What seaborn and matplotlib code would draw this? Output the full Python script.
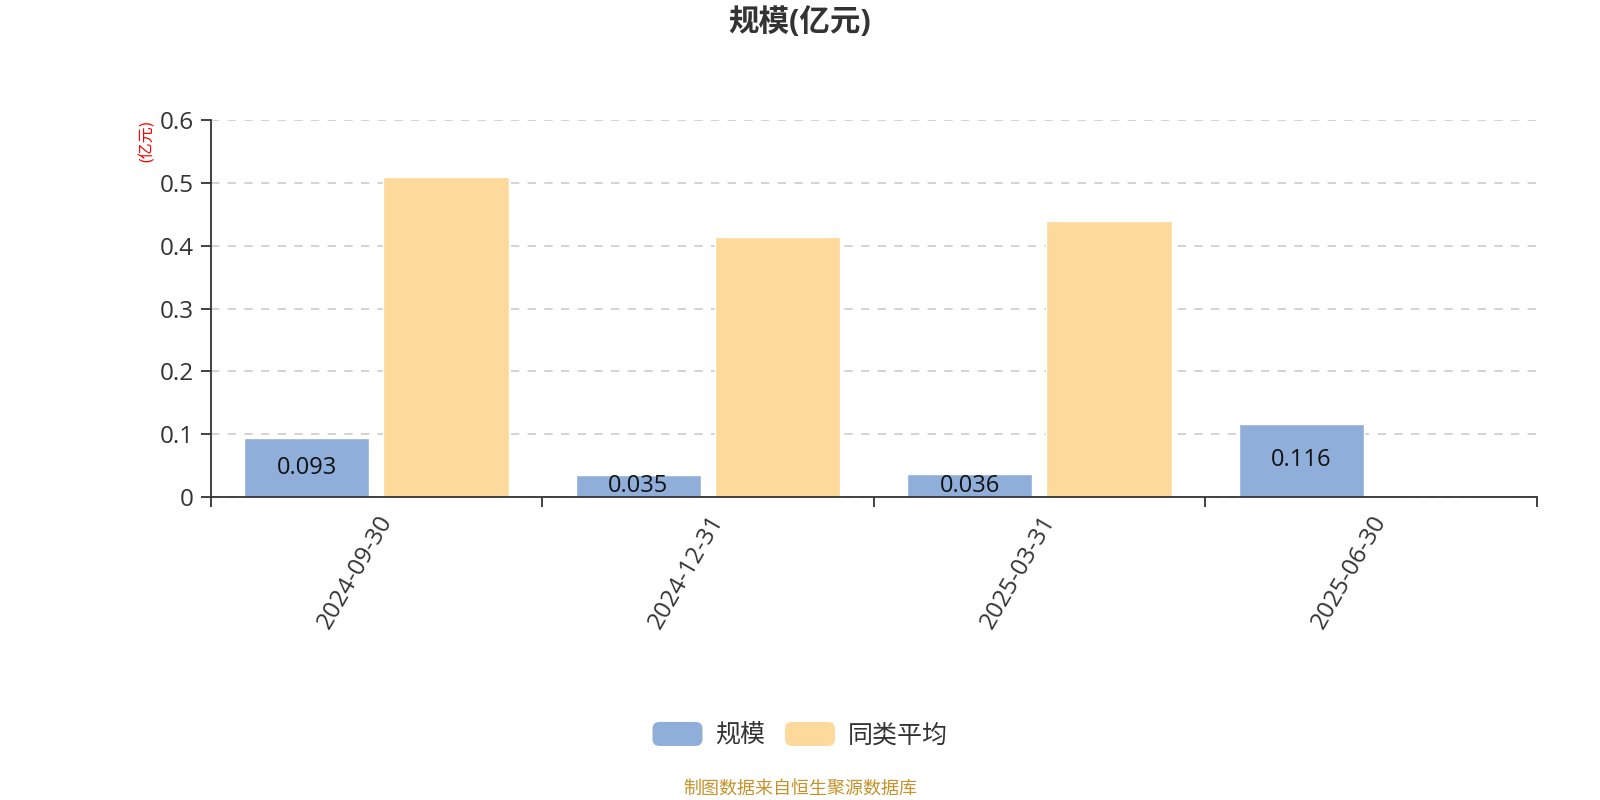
import matplotlib
matplotlib.use("Agg")
import matplotlib.pyplot as plt
import numpy as np
import pandas as pd
import seaborn as sns
from matplotlib.legend_handler import HandlerPatch
from matplotlib.patches import FancyBboxPatch, Patch

# data
dates = ["2024-09-30", "2024-12-31", "2025-03-31", "2025-06-30"]
scale = [0.093, 0.035, 0.036, 0.116]
peer_avg = [0.510, 0.414, 0.439, np.nan]
series_names = ["规模", "同类平均"]
yticks = [0, 0.1, 0.2, 0.3, 0.4, 0.5, 0.6]
ytick_labels = ["0", "0.1", "0.2", "0.3", "0.4", "0.5", "0.6"]

colors = ["#8FAEDA", "#FDD99B"]

sns.set_theme(style="white")
plt.rcParams["font.family"] = ["Open Sans", "Noto Sans CJK SC", "DejaVu Sans"]

df = pd.DataFrame({
    "date": dates * 2,
    "value": scale + peer_avg,
    "series": [series_names[0]] * len(dates) + [series_names[1]] * len(dates),
})


class RoundBoxHandler(HandlerPatch):
    """Legend handle drawn as a rounded box."""

    def create_artists(self, legend, orig_handle, xdescent, ydescent,
                       width, height, fontsize, trans):
        p = FancyBboxPatch((-xdescent, -ydescent), width, height,
                           boxstyle="round,pad=0,rounding_size=5",
                           facecolor=orig_handle.get_facecolor(),
                           edgecolor="none", transform=trans)
        return [p]


fig = plt.figure(figsize=(16, 8), dpi=100)
ax = fig.add_axes([0.1317, 0.379, 0.8287, 0.4706])

sns.barplot(data=df, x="date", y="value", hue="series", palette=colors,
            width=0.84, gap=0.1, saturation=1, legend=False, ax=ax)

# value labels centred inside the blue bars
for i, v in enumerate(scale):
    ax.text(i - 0.21, v / 2, f"{v:.3f}", ha="center", va="center",
            fontsize=17, color="#111111")

ax.set_ylim(0, 0.6)
ax.set_xlim(-0.5, len(dates) - 0.5)
ax.set_yticks(yticks)
ax.set_yticklabels(ytick_labels)
ax.set_xlabel("")
ax.set_ylabel("")

ax.yaxis.grid(True, linestyle=(0, (5, 5)), color="#CCCCCC", linewidth=1.2)
ax.set_axisbelow(True)
for s in ["top", "right"]:
    ax.spines[s].set_visible(False)
for s in ["left", "bottom"]:
    ax.spines[s].set_color("#333333")
    ax.spines[s].set_linewidth(1.3)

ax.tick_params(axis="y", length=7, width=1.3, color="#333333", pad=5,
               labelsize=17.5, labelcolor="#333333", left=True)
ax.set_xticks(np.arange(len(dates)))
ax.set_xticklabels(dates, rotation=60, ha="right", rotation_mode="anchor")
ax.tick_params(axis="x", which="major", length=0, pad=10,
               labelsize=17.5, labelcolor="#333333")
ax.set_xticks(np.arange(-0.5, len(dates)), minor=True)
ax.tick_params(axis="x", which="minor", length=7, width=1.3,
               color="#333333", bottom=True)

fig.text(0.5, 0.972, "规模(亿元)", ha="center", va="center",
         fontsize=22, fontweight="bold", color="#333333")
fig.text(0.0925, 0.85, "(亿元)", ha="center", va="top", rotation=90,
         fontsize=11.5, color="#FF0000")

handles = [Patch(facecolor=c, label=n) for c, n in zip(colors, series_names)]
fig.legend(handles=handles, loc="center", bbox_to_anchor=(0.5, 0.081),
           ncol=2, frameon=False, fontsize=18, handlelength=2.0,
           handleheight=1.1, handletextpad=0.5, columnspacing=0.8,
           labelcolor="#333333",
           handler_map={Patch: RoundBoxHandler()})

fig.text(0.5, 0.014, "制图数据来自恒生聚源数据库", ha="center", va="center",
         fontsize=13, color="#C8922A")

fig.savefig("out.png", dpi=100)
plt.close(fig)
